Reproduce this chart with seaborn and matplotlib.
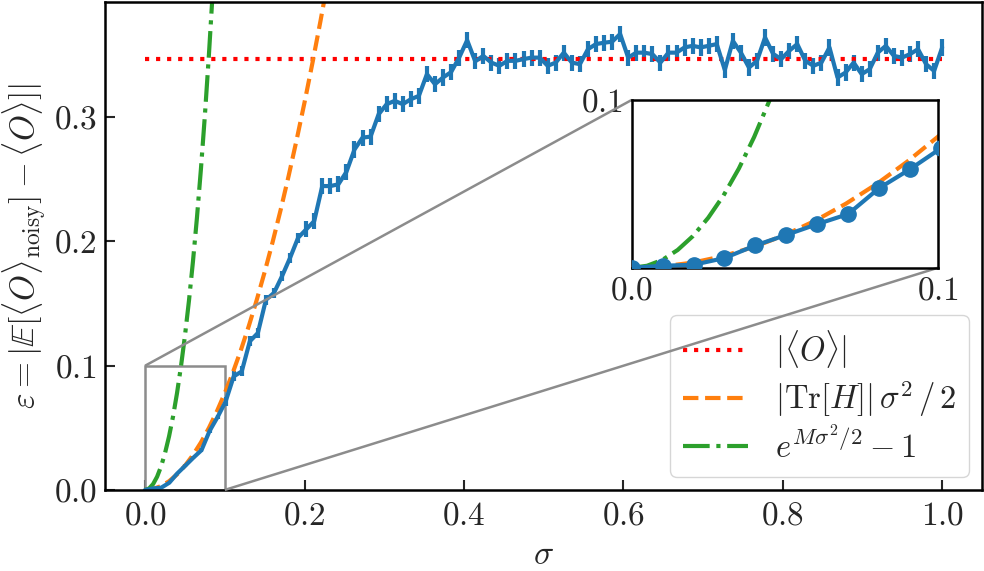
import numpy as np
import seaborn as sns
import matplotlib
matplotlib.use('Agg')
import matplotlib.pyplot as plt
from mpl_toolkits.axes_grid1.inset_locator import mark_inset

# noise strengths (100 evenly spaced points from 0 to 1)
sigma = np.linspace(0, 1, 100)

eps = [0.0, 0.0012, 0.0018, 0.0058, 0.0133, 0.0196, 0.0260, 0.0320, 0.0474, 0.0587,
       0.0712, 0.0914, 0.0954, 0.1196, 0.1263, 0.1530, 0.1586, 0.1720, 0.1868, 0.2030,
       0.2097, 0.2164, 0.2446, 0.2446, 0.2460, 0.2560, 0.2740, 0.2836, 0.2844, 0.3024,
       0.3105, 0.3132, 0.3105, 0.3145, 0.3172, 0.3347, 0.3266, 0.3320, 0.3363, 0.3480,
       0.3620, 0.3450, 0.3494, 0.3440, 0.3414, 0.3454, 0.3454, 0.3468, 0.3480, 0.3480,
       0.3414, 0.3440, 0.3520, 0.3440, 0.3427, 0.3548, 0.3589, 0.3600, 0.3608, 0.3670,
       0.3480, 0.3520, 0.3520, 0.3508, 0.3440, 0.3520, 0.3520, 0.3562, 0.3575, 0.3562,
       0.3575, 0.3589, 0.3380, 0.3615, 0.3520, 0.3400, 0.3454, 0.3642, 0.3510, 0.3468,
       0.3535, 0.3589, 0.3454, 0.3414, 0.3440, 0.3562, 0.3320, 0.3360, 0.3440, 0.3347,
       0.3387, 0.3520, 0.3575, 0.3494, 0.3480, 0.3508, 0.3548, 0.3427, 0.3373, 0.3562]
# error bar half lengths (rough estimates)
eps_err = [0.0005] * 5 + [0.0015] * 5 + [0.004] * 10 + [0.0065] * 80

# |<O>| reference level
obs_abs = 0.347
obs_x = [0.0, 1.0]

# |Tr[H]| sigma^2 / 2 curve
sigma_tr = [0.0, 0.01, 0.02, 0.03, 0.04, 0.05, 0.06, 0.07, 0.08, 0.09, 0.10, 0.11,
            0.12, 0.13, 0.14, 0.15, 0.16, 0.17, 0.18, 0.19, 0.20, 0.21, 0.22, 0.23]
tr_vals = [0.0, 0.0008, 0.0031, 0.0070, 0.0125, 0.0195, 0.0281, 0.0382, 0.0499, 0.0632,
           0.0780, 0.0944, 0.1123, 0.1318, 0.1529, 0.1755, 0.1997, 0.2254, 0.2527, 0.2816,
           0.3120, 0.3440, 0.3775, 0.4126]

# e^{M sigma^2/2} - 1 curve
sigma_exp = [0.0, 0.005, 0.01, 0.015, 0.02, 0.025, 0.03, 0.035, 0.04, 0.045,
             0.05, 0.055, 0.06, 0.065, 0.07, 0.075, 0.08, 0.085, 0.09]
exp_vals = [0.0, 0.0012, 0.0047, 0.0106, 0.0189, 0.0298, 0.0431, 0.0591, 0.0779, 0.0996,
            0.1244, 0.1524, 0.1839, 0.2191, 0.2584, 0.3019, 0.3501, 0.4034, 0.4621]

blue, orange, green = '#1f77b4', '#ff7f0e', '#2ca02c'
FS = 24
LW = 3.0

sns.set_theme(style='ticks')
plt.rcParams['font.family'] = 'serif'
plt.rcParams['font.serif'] = ['cmr10']
plt.rcParams['mathtext.fontset'] = 'cm'
plt.rcParams['axes.formatter.use_mathtext'] = True
plt.rcParams['axes.unicode_minus'] = False

fig = plt.figure(figsize=(9.84, 5.71), dpi=100)
ax = fig.add_axes([0.107, 0.142, 0.891, 0.855])

ax.errorbar(sigma, eps, yerr=eps_err, color=blue, lw=LW, elinewidth=LW, capsize=0)
ax.plot(obs_x, [obs_abs, obs_abs], ':', color='red', lw=LW,
        label=r'$|\langle O\rangle|$')
sns.lineplot(x=sigma_tr, y=tr_vals, ax=ax, color=orange, lw=LW, linestyle='--',
             label=r'$|\mathrm{Tr}[H]|\,\sigma^2\,/\,2$')
sns.lineplot(x=sigma_exp, y=exp_vals, ax=ax, color=green, lw=LW, linestyle='-.',
             label=r'$e^{M\sigma^2/2}-1$')

ax.set_xlim(-0.05, 1.05)
ax.set_ylim(0, 0.393)
ax.set_xticks([0.0, 0.2, 0.4, 0.6, 0.8, 1.0])
ax.set_yticks([0.0, 0.1, 0.2, 0.3])
ax.tick_params(direction='in', length=7, width=1.5, labelsize=FS, pad=8)
ax.tick_params(axis='y', pad=6)
for s in ax.spines.values():
    s.set_linewidth(1.8)
    s.set_color('black')
ax.set_xlabel(r'$\sigma$', fontsize=FS, labelpad=8)
ax.set_ylabel(r'$\varepsilon = |\mathbb{E}[\langle O\rangle_{\mathrm{noisy}}] - \langle O\rangle]|$',
              fontsize=FS)
ax.yaxis.set_label_coords(-0.064, 0.5)
ax.legend(loc='lower right', fontsize=23.5, handlelength=2.0, labelspacing=0.25,
          borderaxespad=0.4)

# zoomed inset
axins = fig.add_axes([0.642, 0.531, 0.311, 0.294])
axins.plot(sigma, eps, color=blue, lw=LW, marker='o', ms=11, zorder=3)
sns.lineplot(x=sigma_tr, y=tr_vals, ax=axins, color=orange, lw=LW, linestyle='--')
sns.lineplot(x=sigma_exp, y=exp_vals, ax=axins, color=green, lw=LW, linestyle='-.')
axins.set_xlim(0, 0.1)
axins.set_ylim(0, 0.1)
axins.set_xticks([0.0, 0.1])
axins.set_yticks([0.1])
axins.tick_params(length=0, labelsize=FS, pad=6)
for s in axins.spines.values():
    s.set_linewidth(1.8)
    s.set_color('black')
mark_inset(ax, axins, loc1=2, loc2=4, fc='none', ec='0.55', lw=1.8)

fig.savefig('out.png', dpi=100)
